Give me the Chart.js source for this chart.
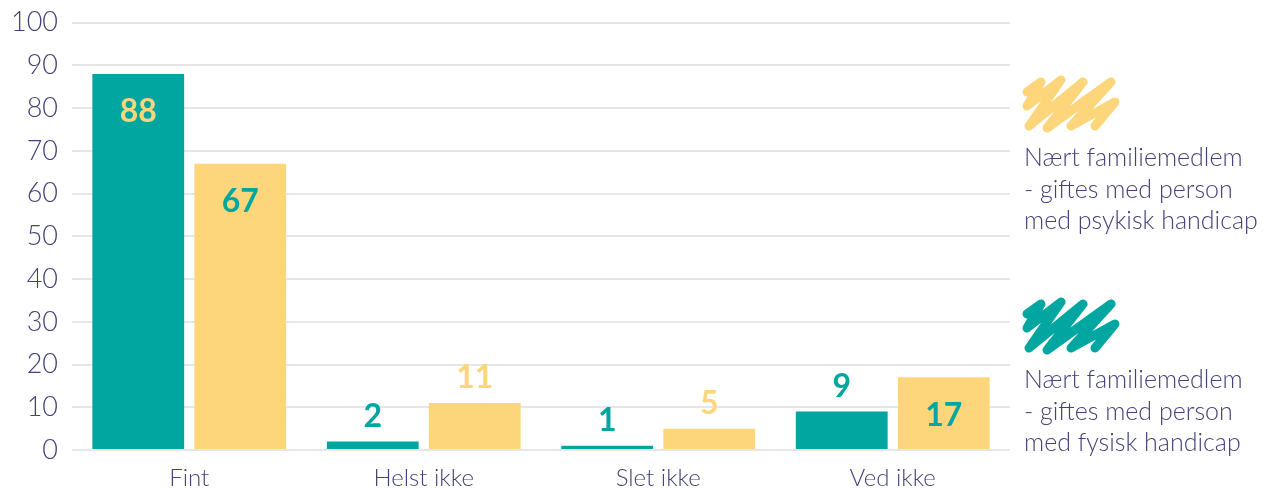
<!DOCTYPE html>
<html>
<head>
<meta charset="utf-8">
<script src="https://cdn.jsdelivr.net/npm/chart.js@4.4.1/dist/chart.umd.min.js"></script>
<style>
  html, body { margin: 0; padding: 0; background: #fff; }
  #wrap { width: 1266px; height: 488px; }
</style>
</head>
<body>
<div id="wrap"><canvas id="chart" width="1266" height="488"></canvas></div>
<script>
const categories = ["Fint", "Helst ikke", "Slet ikke", "Ved ikke"];
const fysisk = [88, 2, 1, 9];
const psykisk = [67, 11, 5, 17];
const seriesLabels = [
  ["Nært familiemedlem", "- giftes med person", "med fysisk handicap"],
  ["Nært familiemedlem", "- giftes med person", "med psykisk handicap"]
];
const yTicks = [0, 10, 20, 30, 40, 50, 60, 70, 80, 90, 100];

const TEAL = "#00a69f";
const YELLOW = "#fdd67c";
const INK = "#44427a";
const FONT = "Lato, 'Open Sans', sans-serif";

// value labels: inside the bar top when tall enough, otherwise above it
const valueLabels = {
  id: "valueLabels",
  afterDatasetsDraw(chart) {
    const ctx = chart.ctx;
    ctx.save();
    ctx.font = "bold 32px " + FONT;
    ctx.textAlign = "center";
    ctx.textBaseline = "middle";
    chart.data.datasets.forEach((ds, di) => {
      const meta = chart.getDatasetMeta(di);
      const other = di === 0 ? YELLOW : TEAL;
      meta.data.forEach((bar, i) => {
        const v = ds.data[i];
        if (v >= 15) {
          ctx.fillStyle = other;
          ctx.fillText(v, bar.x, bar.y + 38);
        } else {
          ctx.fillStyle = ds.backgroundColor;
          ctx.fillText(v, bar.x, bar.y - 25);
        }
      });
    });
    ctx.restore();
  }
};

// scribble legend on the right
function scribble(ctx, x, y, color) {
  const pts = [[6,16],[20,6],[6,30],[40,4],[8,50],[62,6],[26,52],[90,6],[50,50],[94,26],[74,50]];
  ctx.save();
  ctx.strokeStyle = color;
  ctx.lineWidth = 9;
  ctx.lineCap = "round";
  ctx.lineJoin = "round";
  ctx.beginPath();
  pts.forEach((p, i) => {
    if (i === 0) ctx.moveTo(x + p[0], y + p[1]);
    else ctx.lineTo(x + p[0], y + p[1]);
  });
  ctx.stroke();
  ctx.restore();
}

const sideLegend = {
  id: "sideLegend",
  afterDraw(chart) {
    const ctx = chart.ctx;
    const x = 1024;
    const blocks = [
      { top: 76, color: YELLOW, lines: seriesLabels[1] },
      { top: 298, color: TEAL, lines: seriesLabels[0] }
    ];
    ctx.save();
    blocks.forEach(b => {
      scribble(ctx, x - 3, b.top, b.color);
      ctx.font = "300 25px " + FONT;
      ctx.fillStyle = INK;
      ctx.textAlign = "left";
      ctx.textBaseline = "middle";
      b.lines.forEach((t, i) => ctx.fillText(t, x, b.top + 82 + i * 31.5));
    });
    ctx.restore();
  }
};

new Chart(document.getElementById("chart"), {
  type: "bar",
  data: {
    labels: categories,
    datasets: [
      { label: seriesLabels[0].join(" "), data: fysisk, backgroundColor: TEAL },
      { label: seriesLabels[1].join(" "), data: psykisk, backgroundColor: YELLOW }
    ]
  },
  options: {
    responsive: false,
    animation: false,
    layout: { padding: { top: 0, right: 256, left: 8, bottom: 0 } },
    categoryPercentage: 0.87,
    barPercentage: 0.9,
    plugins: {
      legend: { display: false },
      tooltip: { enabled: false }
    },
    scales: {
      x: {
        grid: { display: false },
        border: { display: false },
        ticks: { color: INK, font: { family: FONT, size: 24, weight: 300 }, padding: 6 },
        afterFit: (scale) => { scale.height = 38; }
      },
      y: {
        min: 0,
        max: 100,
        afterBuildTicks: (axis) => { axis.ticks = yTicks.map(v => ({ value: v })); },
        afterFit: (scale) => { scale.width = 64; },
        grid: { color: "#e6e6e6", lineWidth: 2, drawTicks: false },
        border: { display: false },
        ticks: { color: INK, font: { family: FONT, size: 27, weight: 300, lineHeight: 0.65 }, padding: 14 }
      }
    }
  },
  plugins: [valueLabels, sideLegend]
});
</script>
</body>
</html>
